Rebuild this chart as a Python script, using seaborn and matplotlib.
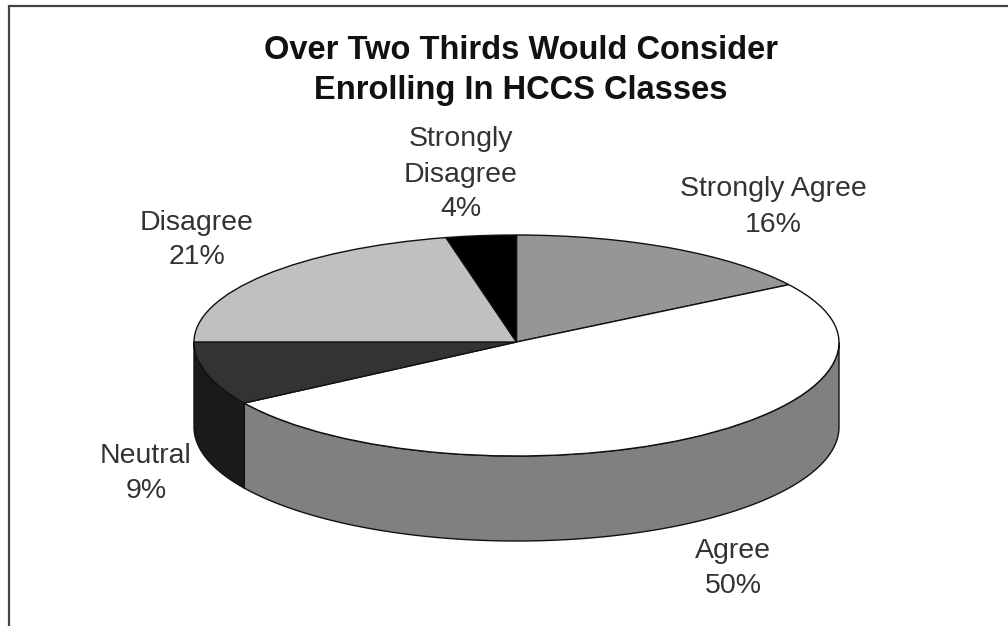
import numpy as np
import matplotlib
matplotlib.use("Agg")
import matplotlib.pyplot as plt
import seaborn as sns

categories = ["Strongly Agree", "Agree", "Neutral", "Disagree", "Strongly\nDisagree"]
values = [16, 50, 9, 21.49, 3.51]
top_colors = ["#969696", "#ffffff", "#333333", "#c0c0c0", "#000000"]
side_colors = ["#707070", "#808080", "#1a1a1a", "#a0a0a0", "#000000"]
title = "Over Two Thirds Would Consider\nEnrolling In HCCS Classes"

sns.set_theme(style="white")
plt.rcParams["font.family"] = ["Liberation Sans", "DejaVu Sans"]

W, H = 1008, 626
fig = plt.figure(figsize=(W / 100, H / 100), dpi=100, facecolor="white")

# page layer in pixel coordinates
bg = fig.add_axes([0, 0, 1, 1])
bg.set_xlim(0, W)
bg.set_ylim(H, 0)
bg.axis("off")
bg.plot([9, 9, W], [H, 6, 6], color="#444444", lw=1.6, solid_joinstyle="miter", clip_on=False)

# pie layer: top half squeezed a little more than the front half (perspective)
cx, cy, rx, ry_back, ry_front, depth = 516.5, 342, 322.5, 107, 114, 85
left, right, top, bottom = cx - rx, cx + rx, cy - ry_back, cy + ry_front + depth
ax = fig.add_axes([left / W, 1 - bottom / H, (right - left) / W, (bottom - top) / H])
ax.patch.set_alpha(0)

wedges, _ = ax.pie(values, colors=top_colors, startangle=90, counterclock=False,
                   wedgeprops=dict(edgecolor="#111111", linewidth=1.0, clip_on=False, zorder=5))
ax.set_aspect("auto")
ax.set_box_aspect(None)


def fwd(y):
    y = np.asarray(y, dtype=float)
    return np.where(y >= 0, y * ry_back, y * ry_front)


def inv(y):
    y = np.asarray(y, dtype=float)
    return np.where(y >= 0, y / ry_back, y / ry_front)


ax.set_yscale("function", functions=(fwd, inv))
d = depth / ry_front
ax.set_xlim(-1, 1)
ax.set_ylim(-1 - d, 1)
ax.set_xticks([])
ax.set_yticks([])
ax.minorticks_off()
ax.set_frame_on(False)

# visible rim of the disc, from the same values
fracs = np.cumsum([0] + values) / np.sum(values)
for i in range(len(values)):
    a0, a1 = 90 - 360 * fracs[i], 90 - 360 * fracs[i + 1]   # a0 > a1 (clockwise)
    for lo, hi in ((-180, 0), (-540, -360)):
        s, e = min(a0, hi), max(a1, lo)
        if s <= e:
            continue
        t = np.radians(np.linspace(s, e, 120))
        xs = np.cos(t)
        ys = np.sin(t)
        ax.fill(np.r_[xs, xs[::-1]], np.r_[ys, ys[::-1] - d],
                facecolor=side_colors[i], edgecolor="#111111", lw=1.0, clip_on=False, zorder=2)

# text
txt = fig.add_axes([0, 0, 1, 1])
txt.set_xlim(0, W)
txt.set_ylim(H, 0)
txt.axis("off")
txt.patch.set_alpha(0)
txt.text(521, 70.5, title, ha="center", va="center", fontsize=23.5, fontweight="bold",
         color="#111111", linespacing=1.37)
label_pos = [(773, 207), (733, 568.5), (146, 473.5), (197, 240), (461, 174.5)]
for cat, val, (x, y) in zip(categories, values, label_pos):
    txt.text(x, y, f"{cat}\n{val:.0f}%", ha="center", va="center", fontsize=20.5,
             color="#333333", linespacing=1.45)

fig.savefig("out.png", dpi=100, facecolor="white")
